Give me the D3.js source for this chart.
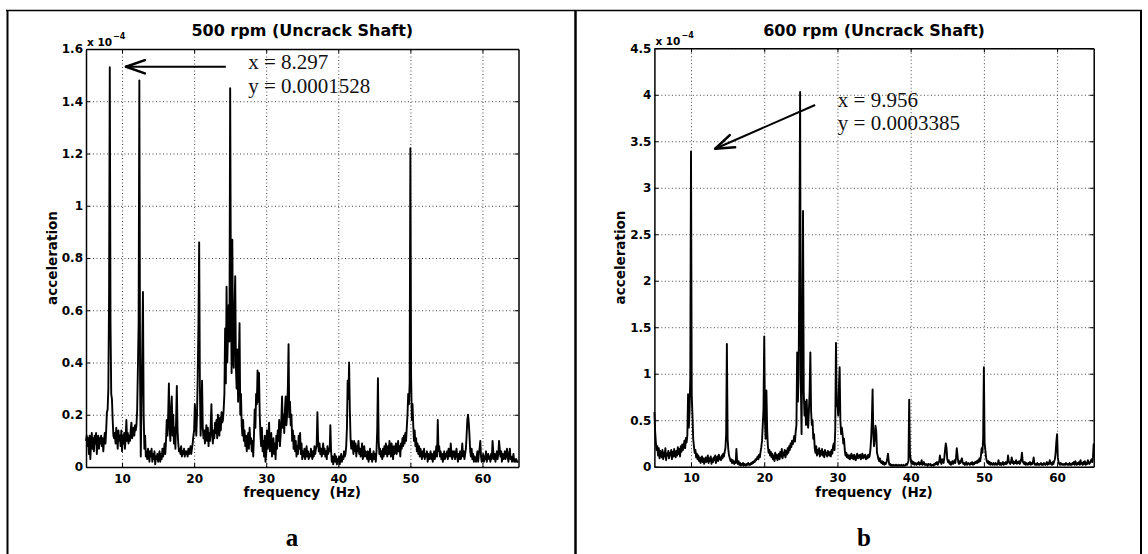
<!DOCTYPE html>
<html>
<head>
<meta charset="utf-8">
<script src="https://cdn.jsdelivr.net/npm/d3@7"></script>
<style>
  body { margin: 0; background: #fff; }
  svg { display: block; }
</style>
</head>
<body>
<svg id="fig" width="1148" height="554"></svg>
<script>
// spectrum sampled every 0.1 Hz from 5 Hz to 65 Hz, amplitudes in units of 1e-4
const freqStart = 5;
const freqStep = 0.1;

const xTicks = [10, 20, 30, 40, 50, 60];
const yTicksA = [0, 0.2, 0.4, 0.6, 0.8, 1, 1.2, 1.4, 1.6];
const yTicksB = [0, 0.5, 1, 1.5, 2, 2.5, 3, 3.5, 4, 4.5];

const titles = ['500 rpm (Uncrack Shaft)', '600 rpm (Uncrack Shaft)'];
const panelLetters = ['a', 'b'];
const markTextA = ['x = 8.297', 'y = 0.0001528'];
const markTextB = ['x = 9.956', 'y = 0.0003385'];

// 500 rpm, one row per Hz
const ampA = [
  0.10,0.12,0.08,0.11,0.05,0.12,0.03,0.09,0.13,0.07,
  0.11,0.06,0.12,0.09,0.13,0.05,0.10,0.12,0.07,0.11,
  0.09,0.12,0.08,0.11,0.06,0.10,0.13,0.09,0.14,0.21,
  0.22,0.30,0.65,1.53,0.55,0.28,0.26,0.18,0.12,0.11,
  0.13,0.09,0.15,0.11,0.07,0.14,0.10,0.12,0.08,0.14,
  0.06,0.12,0.09,0.13,0.07,0.11,0.18,0.10,0.13,0.09,
  0.12,0.10,0.14,0.17,0.11,0.13,0.15,0.12,0.16,0.14,
  0.16,0.22,0.38,0.55,1.48,0.35,0.04,0.25,0.45,0.67,
  0.20,0.07,0.12,0.04,0.06,0.03,0.07,0.05,0.02,0.06,
  0.04,0.07,0.02,0.05,0.03,0.06,0.01,0.04,0.03,0.05,
  0.02,0.04,0.06,0.02,0.05,0.03,0.07,0.04,0.06,0.09,
  0.05,0.10,0.18,0.12,0.20,0.32,0.15,0.10,0.22,0.27,
  0.12,0.20,0.09,0.15,0.07,0.18,0.31,0.14,0.09,0.06,
  0.07,0.05,0.08,0.04,0.06,0.05,0.07,0.04,0.06,0.05,
  0.06,0.04,0.07,0.05,0.06,0.08,0.05,0.07,0.09,0.12,
  0.14,0.24,0.18,0.12,0.20,0.35,0.55,0.86,0.30,0.12,
  0.20,0.33,0.15,0.11,0.14,0.09,0.12,0.16,0.10,0.15,
  0.08,0.13,0.10,0.16,0.24,0.12,0.09,0.14,0.11,0.17,
  0.13,0.18,0.11,0.20,0.15,0.12,0.19,0.14,0.21,0.17,
  0.18,0.22,0.28,0.53,0.32,0.69,0.40,0.52,0.62,0.48,
  1.45,0.70,0.36,0.87,0.42,0.38,0.60,0.73,0.38,0.30,
  0.45,0.25,0.40,0.55,0.20,0.28,0.16,0.12,0.18,0.10,
  0.14,0.08,0.12,0.06,0.10,0.13,0.07,0.15,0.09,0.11,
  0.06,0.10,0.04,0.12,0.22,0.15,0.28,0.24,0.37,0.25,
  0.36,0.20,0.12,0.08,0.15,0.06,0.10,0.04,0.12,0.02,
  0.05,0.14,0.07,0.12,0.17,0.06,0.10,0.13,0.04,0.08,
  0.11,0.05,0.09,0.03,0.12,0.07,0.14,0.10,0.18,0.08,
  0.12,0.18,0.27,0.15,0.20,0.13,0.22,0.27,0.16,0.20,
  0.30,0.47,0.19,0.25,0.16,0.20,0.10,0.14,0.07,0.12,
  0.06,0.10,0.04,0.08,0.05,0.12,0.07,0.13,0.05,0.09,
  0.03,0.06,0.04,0.07,0.03,0.05,0.08,0.04,0.06,0.03,
  0.05,0.04,0.07,0.05,0.03,0.06,0.04,0.08,0.05,0.07,
  0.08,0.21,0.10,0.06,0.09,0.05,0.07,0.04,0.06,0.09,
  0.05,0.07,0.04,0.06,0.03,0.08,0.05,0.07,0.06,0.16,
  0.06,0.02,0.04,0.01,0.03,0.05,0.02,0.04,0.01,0.03,
  0.02,0.04,0.01,0.03,0.05,0.02,0.04,0.03,0.06,0.04,
  0.05,0.08,0.15,0.33,0.26,0.40,0.22,0.11,0.07,0.10,
  0.08,0.05,0.10,0.06,0.09,0.04,0.08,0.06,0.10,0.05,
  0.07,0.04,0.06,0.09,0.03,0.05,0.08,0.04,0.06,0.05,
  0.03,0.06,0.02,0.04,0.07,0.03,0.05,0.02,0.04,0.06,
  0.03,0.05,0.02,0.06,0.14,0.34,0.10,0.05,0.07,0.04,
  0.06,0.03,0.07,0.04,0.08,0.05,0.09,0.06,0.04,0.08,
  0.05,0.10,0.07,0.04,0.09,0.06,0.03,0.08,0.05,0.07,
  0.09,0.05,0.07,0.10,0.06,0.08,0.04,0.09,0.07,0.11,
  0.08,0.12,0.09,0.13,0.10,0.15,0.20,0.28,0.24,0.32,
  1.22,0.35,0.18,0.24,0.16,0.10,0.14,0.08,0.11,0.06,
  0.09,0.05,0.08,0.04,0.07,0.05,0.03,0.06,0.04,0.07,
  0.03,0.05,0.04,0.06,0.02,0.05,0.03,0.04,0.06,0.03,
  0.05,0.02,0.04,0.06,0.03,0.05,0.08,0.04,0.18,0.06,
  0.08,0.04,0.06,0.03,0.05,0.02,0.04,0.06,0.03,0.05,
  0.04,0.06,0.03,0.07,0.05,0.04,0.09,0.05,0.03,0.06,
  0.04,0.06,0.03,0.05,0.07,0.04,0.02,0.05,0.03,0.06,
  0.03,0.05,0.09,0.04,0.06,0.03,0.05,0.07,0.12,0.18,
  0.20,0.17,0.12,0.06,0.04,0.07,0.03,0.05,0.02,0.04,
  0.03,0.02,0.04,0.06,0.02,0.05,0.07,0.10,0.04,0.02,
  0.03,0.05,0.02,0.04,0.03,0.06,0.02,0.04,0.05,0.03,
  0.04,0.02,0.05,0.03,0.10,0.06,0.03,0.05,0.02,0.04,
  0.06,0.03,0.05,0.10,0.07,0.04,0.06,0.02,0.05,0.03,
  0.04,0.06,0.03,0.05,0.07,0.04,0.02,0.05,0.07,0.03,
  0.04,0.02,0.03,0.05,0.02,0.03,0.02,0.03,0.02,0.02,
  0.02
];

// 600 rpm, one row per Hz
const ampB = [
  0.59,0.38,0.26,0.18,0.22,0.12,0.20,0.09,0.17,0.13,
  0.10,0.18,0.08,0.15,0.11,0.20,0.07,0.14,0.12,0.17,
  0.09,0.15,0.12,0.18,0.08,0.16,0.11,0.19,0.13,0.10,
  0.17,0.12,0.21,0.14,0.19,0.11,0.22,0.16,0.24,0.18,
  0.22,0.28,0.20,0.31,0.26,0.34,0.78,0.42,0.60,0.95,
  3.39,0.77,0.55,0.30,0.22,0.15,0.18,0.10,0.14,0.08,
  0.12,0.06,0.10,0.04,0.08,0.11,0.05,0.09,0.03,0.07,
  0.10,0.05,0.08,0.12,0.04,0.09,0.06,0.11,0.03,0.08,
  0.05,0.10,0.07,0.12,0.04,0.09,0.11,0.06,0.13,0.08,
  0.10,0.07,0.12,0.09,0.14,0.11,0.16,0.20,0.35,1.32,
  0.30,0.18,0.12,0.09,0.06,0.08,0.04,0.07,0.05,0.03,
  0.06,0.04,0.19,0.05,0.03,0.06,0.02,0.04,0.01,0.03,
  0.02,0.04,0.01,0.03,0.02,0.01,0.03,0.02,0.04,0.02,
  0.03,0.02,0.04,0.03,0.05,0.04,0.06,0.05,0.08,0.07,
  0.09,0.11,0.08,0.13,0.10,0.16,0.21,0.28,0.45,0.62,
  1.40,0.50,0.30,0.82,0.40,0.22,0.15,0.18,0.12,0.16,
  0.10,0.14,0.08,0.12,0.06,0.15,0.09,0.13,0.07,0.11,
  0.14,0.08,0.16,0.11,0.19,0.09,0.15,0.12,0.18,0.10,
  0.17,0.13,0.20,0.15,0.22,0.18,0.25,0.21,0.28,0.24,
  0.28,0.33,0.27,0.38,0.45,1.23,0.70,1.00,2.20,4.03,
  0.90,0.35,1.40,2.75,0.80,0.55,0.70,0.45,0.72,0.50,
  0.42,0.60,0.80,1.23,0.60,0.45,0.50,0.30,0.35,0.20,
  0.15,0.22,0.12,0.18,0.14,0.20,0.11,0.17,0.13,0.19,
  0.12,0.16,0.10,0.18,0.13,0.15,0.11,0.17,0.14,0.12,
  0.16,0.11,0.18,0.14,0.22,0.25,0.18,0.40,1.33,0.65,
  0.70,0.55,0.85,1.07,0.50,0.35,0.42,0.35,0.25,0.30,
  0.18,0.12,0.15,0.10,0.13,0.09,0.12,0.08,0.11,0.14,
  0.09,0.12,0.08,0.13,0.10,0.07,0.11,0.14,0.09,0.12,
  0.10,0.13,0.08,0.11,0.14,0.09,0.12,0.10,0.13,0.08,
  0.11,0.09,0.13,0.10,0.12,0.18,0.30,0.50,0.83,0.35,
  0.22,0.30,0.44,0.38,0.15,0.12,0.08,0.06,0.09,0.05,
  0.04,0.06,0.03,0.05,0.02,0.04,0.03,0.05,0.08,0.14,
  0.06,0.02,0.03,0.01,0.02,0.01,0.02,0.01,0.01,0.02,
  0.01,0.02,0.01,0.01,0.02,0.01,0.01,0.02,0.01,0.01,
  0.02,0.01,0.01,0.02,0.03,0.02,0.04,0.06,0.72,0.15,
  0.08,0.04,0.06,0.03,0.05,0.02,0.04,0.03,0.02,0.04,
  0.03,0.05,0.02,0.04,0.03,0.07,0.02,0.03,0.05,0.02,
  0.02,0.03,0.02,0.01,0.03,0.02,0.02,0.03,0.01,0.02,
  0.02,0.01,0.03,0.02,0.04,0.03,0.05,0.02,0.04,0.06,
  0.12,0.05,0.03,0.08,0.06,0.04,0.10,0.18,0.25,0.20,
  0.08,0.05,0.07,0.03,0.05,0.02,0.04,0.06,0.03,0.05,
  0.07,0.04,0.10,0.20,0.12,0.05,0.03,0.06,0.04,0.07,
  0.09,0.05,0.03,0.04,0.02,0.03,0.05,0.02,0.03,0.04,
  0.03,0.02,0.04,0.03,0.05,0.02,0.04,0.03,0.05,0.04,
  0.06,0.04,0.07,0.05,0.09,0.06,0.12,0.20,0.15,0.30,
  1.07,0.25,0.18,0.10,0.06,0.04,0.06,0.03,0.05,0.02,
  0.04,0.03,0.02,0.04,0.03,0.02,0.04,0.03,0.02,0.03,
  0.07,0.03,0.02,0.04,0.02,0.03,0.05,0.02,0.04,0.03,
  0.05,0.03,0.04,0.12,0.06,0.04,0.03,0.05,0.10,0.04,
  0.06,0.03,0.05,0.04,0.07,0.03,0.05,0.04,0.06,0.03,
  0.05,0.08,0.15,0.06,0.04,0.03,0.05,0.02,0.04,0.03,
  0.02,0.04,0.03,0.05,0.02,0.04,0.03,0.05,0.10,0.03,
  0.02,0.03,0.02,0.04,0.02,0.03,0.02,0.03,0.04,0.02,
  0.03,0.02,0.04,0.03,0.02,0.03,0.05,0.02,0.04,0.03,
  0.07,0.03,0.04,0.02,0.05,0.03,0.06,0.08,0.15,0.27,
  0.35,0.10,0.05,0.03,0.02,0.04,0.03,0.02,0.03,0.02,
  0.03,0.02,0.04,0.03,0.02,0.03,0.02,0.04,0.02,0.03,
  0.02,0.04,0.03,0.05,0.02,0.06,0.03,0.02,0.04,0.03,
  0.05,0.02,0.07,0.03,0.04,0.02,0.05,0.03,0.06,0.02,
  0.04,0.03,0.07,0.05,0.03,0.04,0.06,0.08,0.05,0.10,
  0.25
];

const svg = d3.select('#fig');
const sans = "'DejaVu Sans', Arial, sans-serif";
const serif = "'Liberation Serif', 'Times New Roman', serif";

// outer table frame
const frame = svg.append('g').attr('stroke', '#000').attr('fill', 'none');
frame.append('line').attr('x1', 6).attr('x2', 1142).attr('y1', 10.5).attr('y2', 10.5).attr('stroke-width', 1.5);
frame.append('line').attr('x1', 7.5).attr('x2', 7.5).attr('y1', 10).attr('y2', 554).attr('stroke-width', 2);
frame.append('line').attr('x1', 575.5).attr('x2', 575.5).attr('y1', 10).attr('y2', 554).attr('stroke-width', 2.5);
frame.append('line').attr('x1', 1141).attr('x2', 1141).attr('y1', 10).attr('y2', 554).attr('stroke-width', 2);

const fmtTick = d => String(+d.toFixed(2));

function drawPanel(p) {
  const x = d3.scaleLinear().domain([5, 65]).range([p.x0, p.x1]);
  const y = d3.scaleLinear().domain([0, p.yMax]).range([p.y1, p.y0]);
  const g = svg.append('g');
  const h = p.y1 - p.y0, w = p.x1 - p.x0;

  // dotted grid
  g.append('g').attr('transform', `translate(0,${p.y1})`)
    .call(d3.axisBottom(x).tickValues(xTicks).tickSize(-h).tickFormat(''))
    .call(a => a.select('.domain').remove())
    .selectAll('line').attr('stroke', '#444').attr('stroke-dasharray', '1,2.5');
  g.append('g').attr('transform', `translate(${p.x0},0)`)
    .call(d3.axisLeft(y).tickValues(p.yTicks).tickSize(-w).tickFormat(''))
    .call(a => a.select('.domain').remove())
    .selectAll('line').attr('stroke', '#444').attr('stroke-dasharray', '1,2.5');

  // spectrum
  const pts = p.amp.map((v, i) => [freqStart + i * freqStep, v]);
  g.append('path').datum(pts)
    .attr('d', d3.line().x(d => x(d[0])).y(d => y(d[1])))
    .attr('fill', 'none').attr('stroke', '#000')
    .attr('stroke-width', 1.9).attr('stroke-linejoin', 'round');

  // box axes with inward ticks
  const styleAxis = a => {
    a.select('.domain').attr('stroke', '#000').attr('stroke-width', 1.5);
    a.selectAll('.tick line').attr('stroke', '#000');
    a.selectAll('text').attr('font-family', sans).attr('font-weight', 'bold')
      .attr('font-size', 12).attr('fill', '#000');
  };
  g.append('g').attr('transform', `translate(0,${p.y1})`)
    .call(d3.axisBottom(x).tickValues(xTicks).tickSize(-4).tickSizeOuter(0).tickPadding(7).tickFormat(d3.format('d')))
    .call(styleAxis);
  g.append('g').attr('transform', `translate(0,${p.y0})`)
    .call(d3.axisTop(x).tickValues(xTicks).tickSize(-4).tickSizeOuter(0).tickFormat(''))
    .call(styleAxis);
  g.append('g').attr('transform', `translate(${p.x0},0)`)
    .call(d3.axisLeft(y).tickValues(p.yTicks).tickSize(-4).tickSizeOuter(0).tickPadding(3).tickFormat(fmtTick))
    .call(styleAxis);
  g.append('g').attr('transform', `translate(${p.x1},0)`)
    .call(d3.axisRight(y).tickValues(p.yTicks).tickSize(-4).tickSizeOuter(0).tickFormat(''))
    .call(styleAxis);

  // exponent
  const ex = g.append('text').attr('x', p.x0 + 1).attr('y', p.y0 - 3)
    .attr('font-family', sans).attr('font-weight', 'bold').attr('font-size', 10.5);
  ex.append('tspan').text('x 10');
  ex.append('tspan').attr('dx', 1).attr('dy', -7).attr('font-size', 8).text('\u22124');

  // title and labels
  const cx = (p.x0 + p.x1) / 2;
  g.append('text').attr('x', cx).attr('y', 36).attr('text-anchor', 'middle')
    .attr('font-family', sans).attr('font-weight', 'bold').attr('font-size', 16)
    .text(p.title);
  g.append('text').attr('x', cx).attr('y', 497).attr('text-anchor', 'middle')
    .attr('font-family', sans).attr('font-weight', 'bold').attr('font-size', 13.5)
    .style('white-space', 'pre').text('frequency  (Hz)');
  g.append('text')
    .attr('transform', `translate(${p.x0 - 29},${(p.y0 + p.y1) / 2}) rotate(-90)`)
    .attr('text-anchor', 'middle')
    .attr('font-family', sans).attr('font-weight', 'bold').attr('font-size', 13.5)
    .text('acceleration');
  g.append('text').attr('x', p.letterX).attr('y', 546).attr('text-anchor', 'middle')
    .attr('font-family', serif).attr('font-weight', 'bold').attr('font-size', 25)
    .text(p.letter);

  // data-cursor style annotation
  const tail = [x(p.arrow[0][0]), y(p.arrow[0][1])];
  const tip = [x(p.arrow[1][0]), y(p.arrow[1][1])];
  g.append('line').attr('x1', tail[0]).attr('y1', tail[1]).attr('x2', tip[0]).attr('y2', tip[1])
    .attr('stroke', '#000').attr('stroke-width', 2);
  const ang = Math.atan2(tail[1] - tip[1], tail[0] - tip[0]);
  [-0.34, 0.34].forEach(da => {
    g.append('line').attr('x1', tip[0]).attr('y1', tip[1])
      .attr('x2', tip[0] + 20 * Math.cos(ang + da)).attr('y2', tip[1] + 20 * Math.sin(ang + da))
      .attr('stroke', '#000').attr('stroke-width', 2.5).attr('stroke-linecap', 'round');
  });
  const tx = x(p.textAt[0]);
  const ty = y(p.textAt[1]);
  p.markText.forEach((t, i) => {
    g.append('text').attr('x', tx).attr('y', ty + i * 23.5)
      .attr('font-family', serif).attr('font-size', 21).attr('fill', '#111')
      .text(t);
  });
}

drawPanel({
  amp: ampA, yMax: 1.6, yTicks: yTicksA,
  x0: 86, x1: 518.5, y0: 49, y1: 467,
  title: titles[0], letter: panelLetters[0], letterX: 292,
  arrow: [[24.4, 1.532], [10.55, 1.532]],
  textAt: [27.5, 1.522], markText: markTextA
});
drawPanel({
  amp: ampB, yMax: 4.5, yTicks: yTicksB,
  x0: 654.4, x1: 1093.7, y0: 48.3, y1: 466.7,
  title: titles[1], letter: panelLetters[1], letterX: 864,
  arrow: [[26.95, 3.89], [13.3, 3.42]],
  textAt: [30.05, 3.87], markText: markTextB
});
</script>
</body>
</html>
